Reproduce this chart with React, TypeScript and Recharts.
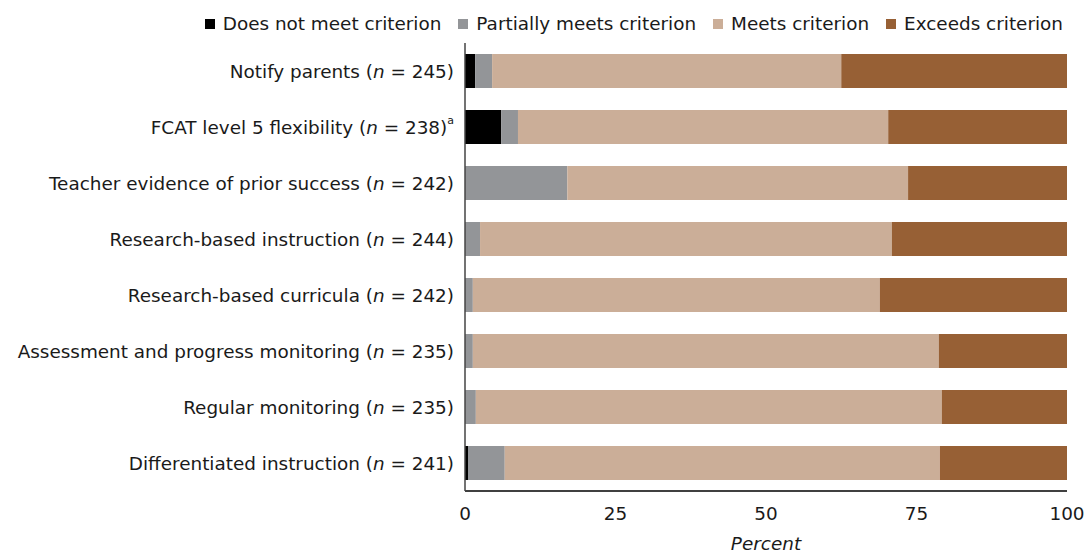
import React from "react";
import { BarChart, Bar, XAxis, YAxis, Label } from "recharts";

const categories = [
  "Notify parents",
  "FCAT level 5 flexibility",
  "Teacher evidence of prior success",
  "Research-based instruction",
  "Research-based curricula",
  "Assessment and progress monitoring",
  "Regular monitoring",
  "Differentiated instruction",
];
const nValues = [245, 238, 242, 244, 242, 235, 235, 241];
const footnotes = ["", "a", "", "", "", "", "", ""];
const doesNotMeet = [1.7, 6.0, 0, 0, 0, 0, 0, 0.5];
const partiallyMeets = [2.8, 2.8, 17.0, 2.5, 1.3, 1.3, 1.8, 6.1];
const meets = [58.0, 61.5, 56.6, 68.4, 67.6, 77.4, 77.4, 72.3];
const exceeds = [37.5, 29.7, 26.4, 29.1, 31.1, 21.3, 20.8, 21.1];
const xTicks = [0, 25, 50, 75, 100];

const seriesNames = ["Does not meet criterion", "Partially meets criterion", "Meets criterion", "Exceeds criterion"];
const seriesKeys = ["doesNot", "partial", "meets", "exceeds"];
const seriesColors = ["#000000", "#939598", "#cbae98", "#976035"];

const data = categories.map((c, i) => ({
  category: c,
  n: nValues[i],
  note: footnotes[i],
  doesNot: doesNotMeet[i],
  partial: partiallyMeets[i],
  meets: meets[i],
  exceeds: exceeds[i],
}));

const FONT = "'DejaVu Sans', sans-serif";
const FS = 18.4;

const YTick = (props: any) => {
  const { x, y, payload } = props;
  const i = categories.indexOf(payload.value);
  const n = nValues[i];
  const note = footnotes[i];
  return (
    <text x={x} y={y} textAnchor="end" dominantBaseline="central" fontFamily={FONT} fontSize={FS} fill="#1a1a1a">
      <tspan>{payload.value} (</tspan>
      <tspan fontStyle="italic">n</tspan>
      <tspan>{` = ${n})`}</tspan>
      {note ? (
        <tspan fontSize={11} dy={-7}>
          {note}
        </tspan>
      ) : null}
    </text>
  );
};

const LegendBox = () => (
  <div
    style={{
      position: "absolute",
      left: 0,
      top: 12,
      width: 1089,
      display: "flex",
      justifyContent: "flex-end",
      alignItems: "center",
      fontFamily: FONT,
      fontSize: FS,
      lineHeight: "24px",
      color: "#1a1a1a",
      boxSizing: "border-box",
      paddingRight: 26,
      whiteSpace: "nowrap",
    }}
  >
    {seriesNames.map((name, i) => (
      <div key={name} style={{ display: "flex", alignItems: "center", marginLeft: i === 0 ? 0 : 17 }}>
        <div style={{ width: 10, height: 10, background: seriesColors[i], marginRight: 8 }} />
        <span>{name}</span>
      </div>
    ))}
  </div>
);

export default function App() {
  return (
    <div style={{ position: "absolute", left: 0, top: 0, width: 1089, height: 555, background: "#fff" }}>
      <BarChart
        width={1089}
        height={555}
        data={data}
        layout="vertical"
        margin={{ top: 43, right: 22, bottom: 0, left: 0 }}
        barSize={34}
      >
        <XAxis
          type="number"
          domain={[0, 100]}
          ticks={xTicks}
          tickLine={false}
          axisLine={{ stroke: "#000", strokeWidth: 1.5 }}
          tick={{ fontFamily: FONT, fontSize: FS, fill: "#1a1a1a" }}
          tickMargin={10}
          height={64}
          interval={0}
        >
          <Label
            value="Percent"
            position="insideBottom"
            offset={5}
            style={{ fontFamily: FONT, fontSize: FS, fontStyle: "italic", fill: "#1a1a1a" }}
          />
        </XAxis>
        <YAxis
          type="category"
          dataKey="category"
          width={465}
          tickLine={false}
          axisLine={{ stroke: "#444", strokeWidth: 1.5 }}
          tick={<YTick />}
          tickMargin={5}
          interval={0}
        />
        {seriesKeys.map((k, i) => (
          <Bar key={k} dataKey={k} name={seriesNames[i]} stackId="a" fill={seriesColors[i]} isAnimationActive={false} />
        ))}
      </BarChart>
      <LegendBox />
    </div>
  );
}
